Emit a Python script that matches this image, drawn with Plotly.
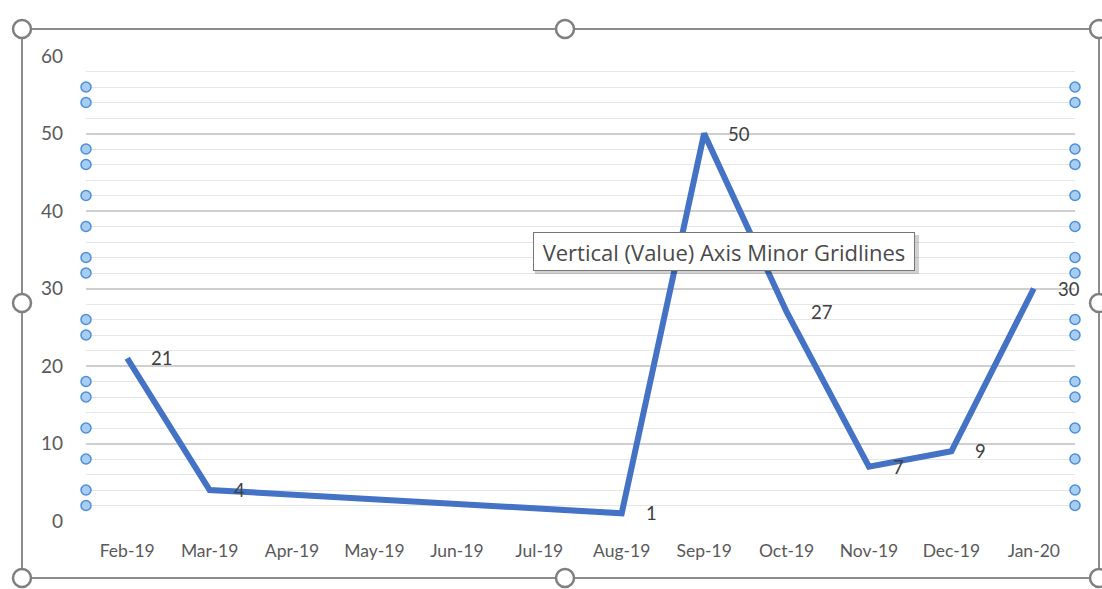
import plotly.graph_objects as go

# Monthly counts (Apr-Jul 2019 have no entries; the line connects across them)
months = ["Feb-19", "Mar-19", "Apr-19", "May-19", "Jun-19", "Jul-19",
          "Aug-19", "Sep-19", "Oct-19", "Nov-19", "Dec-19", "Jan-20"]
counts = [21, 4, None, None, None, None, 1, 50, 27, 7, 9, 30]

y_major_ticks = [0, 10, 20, 30, 40, 50, 60]
# minor gridlines that carry selection handles
handle_levels = [56, 54, 48, 46, 42, 38, 34, 32, 26, 24, 18, 16, 12, 8, 4, 2]

W, H = 1102, 589
ML, MR, MT, MB = 86, 27, 56, 68
PW, PH = W - ML - MR, H - MT - MB

LINE_BLUE = "#4472C4"
FONT = "Lato, Carlito, Calibri, sans-serif"


def px(x):
    return (x - ML) / PW


def py(y):
    return (H - MB - y) / PH


fig = go.Figure()
fig.add_trace(go.Scatter(
    x=months, y=counts, mode="lines", connectgaps=True,
    line=dict(color=LINE_BLUE, width=6), hoverinfo="x+y", showlegend=False,
))

shapes = []
annotations = []

# data labels to the right of each point
for m, v in zip(months, counts):
    if v is None:
        continue
    annotations.append(dict(
        x=m, y=v, xref="x", yref="y", text=str(v), showarrow=False,
        xanchor="left", yanchor="middle", xshift=22,
        font=dict(family=FONT, size=18.5, color="#404040"),
    ))

# selection handles at both ends of the selected minor gridlines
for lvl in handle_levels:
    for xa in (0, 1):
        shapes.append(dict(
            type="circle", xref="paper", yref="y", xsizemode="pixel", ysizemode="pixel",
            xanchor=xa, yanchor=lvl, x0=-5, x1=5, y0=-5, y1=5,
            fillcolor="#A9CDF0", line=dict(color="#4A90D9", width=1.5), layer="above",
        ))

# chart-area frame
shapes.append(dict(
    type="rect", xref="paper", yref="paper",
    x0=px(22), x1=px(1099), y0=py(578), y1=py(29),
    line=dict(color="#8C8C8C", width=2), fillcolor="rgba(0,0,0,0)", layer="above",
))
# sizing handles on the frame
for hx, hy in [(22, 29), (565, 29), (1099, 29), (22, 303), (1099, 303),
               (22, 578), (565, 578), (1099, 578)]:
    shapes.append(dict(
        type="circle", xref="paper", yref="paper", xsizemode="pixel", ysizemode="pixel",
        xanchor=px(hx), yanchor=py(hy), x0=-9, x1=9, y0=-9, y1=9,
        fillcolor="white", line=dict(color="#7F7F7F", width=2.5), layer="above",
    ))

# tooltip shadow
shapes.append(dict(
    type="rect", xref="paper", yref="paper",
    x0=px(535), x1=px(919), y0=py(274), y1=py(235),
    fillcolor="rgba(0,0,0,0.18)", line=dict(width=0), layer="above",
))
annotations.append(dict(
    x=px(724), y=py(251.5), xref="paper", yref="paper",
    text="Vertical (Value) Axis Minor Gridlines", showarrow=False,
    xanchor="center", yanchor="middle", width=378, height=35,
    bgcolor="white", bordercolor="#767676", borderwidth=1, borderpad=1,
    font=dict(family="Open Sans, Noto Sans, sans-serif", size=22, color="#4A4A4A"),
))

fig.update_layout(
    width=W, height=H,
    margin=dict(l=ML, r=MR, t=MT, b=MB),
    paper_bgcolor="white", plot_bgcolor="white",
    shapes=shapes, annotations=annotations,
    xaxis=dict(
        type="category", categoryarray=months, range=[-0.5, 11.5],
        showgrid=False, zeroline=False, showline=False,
        ticks="", ticklabelstandoff=17,
        tickfont=dict(family=FONT, size=17.5, color="#595959"),
    ),
    yaxis=dict(
        range=[0, 60], tickvals=y_major_ticks,
        showgrid=True, gridcolor="#CFCFCF", gridwidth=1.5,
        minor=dict(dtick=2, showgrid=True, gridcolor="#E6E6E6", gridwidth=1.2),
        zeroline=False, showline=False, ticks="", ticklabelstandoff=22,
        tickfont=dict(family=FONT, size=19, color="#595959"),
    ),
)

fig.write_html("out.html")
